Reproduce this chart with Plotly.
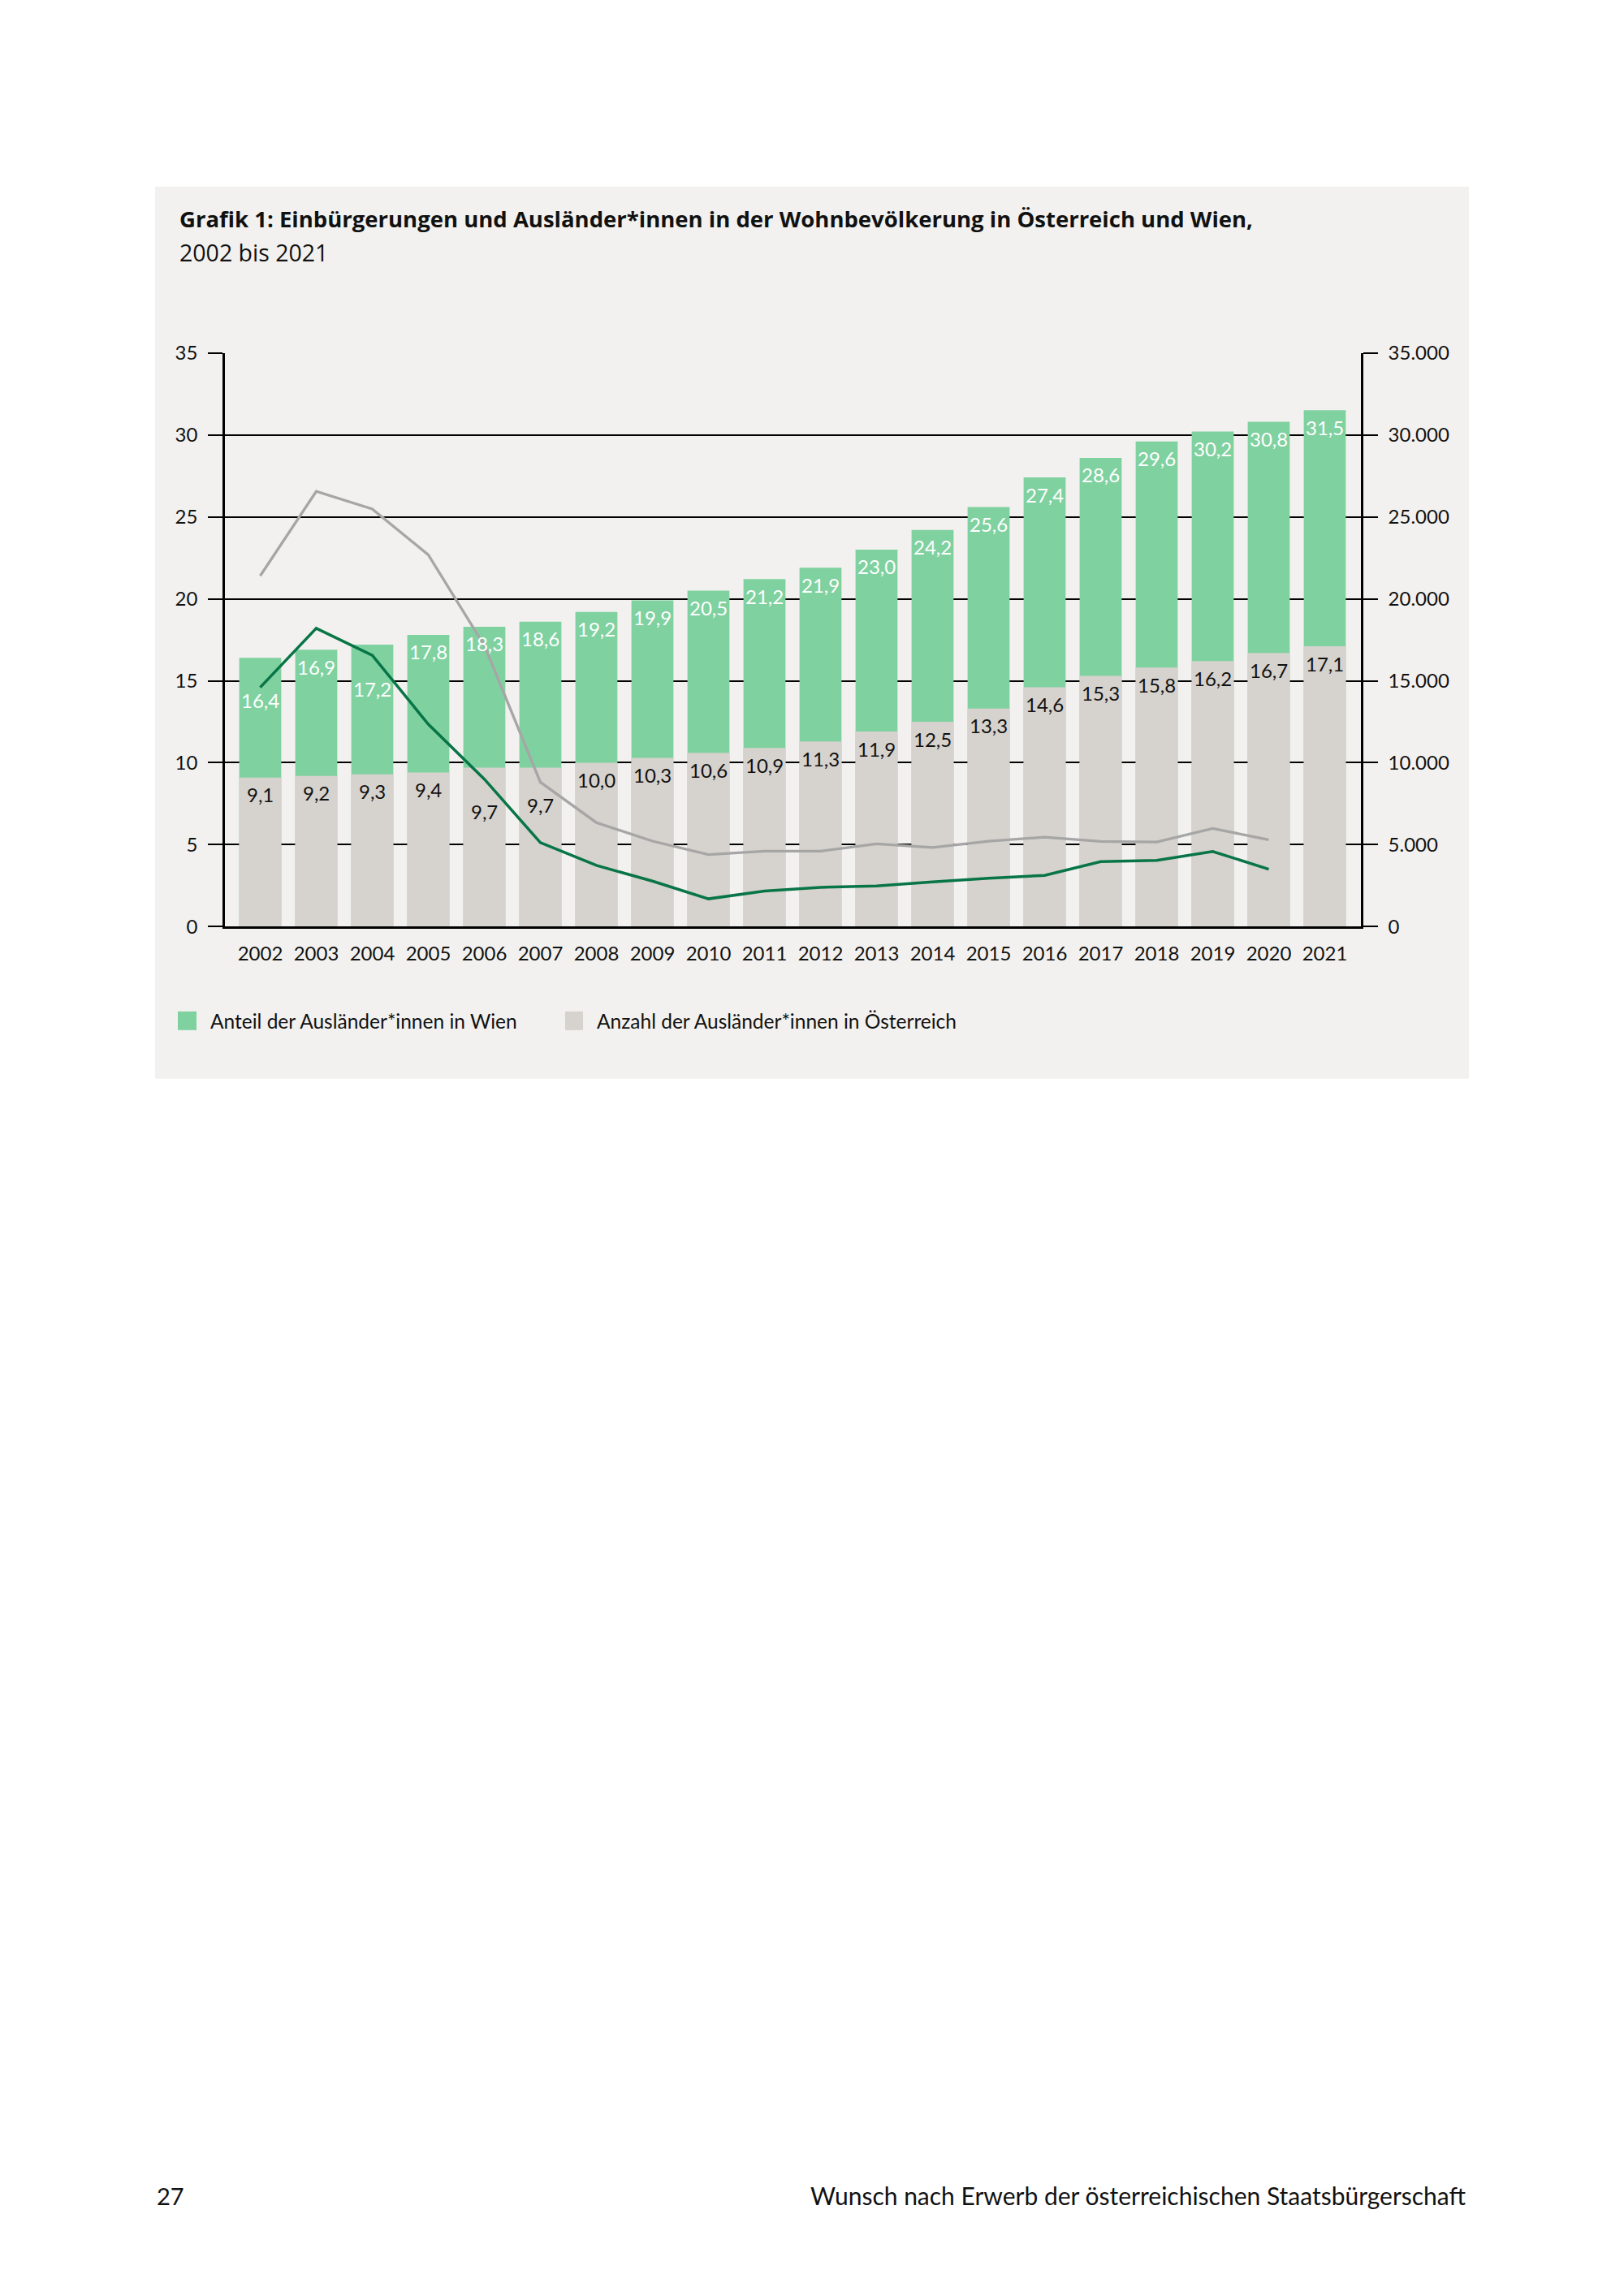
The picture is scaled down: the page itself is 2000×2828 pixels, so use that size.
import plotly.graph_objects as go

# Werte
jahre = ["2002", "2003", "2004", "2005", "2006", "2007", "2008", "2009", "2010", "2011",
         "2012", "2013", "2014", "2015", "2016", "2017", "2018", "2019", "2020", "2021"]

# Anteil der Ausländer*innen (%)
anteil_wien = [16.4, 16.9, 17.2, 17.8, 18.3, 18.6, 19.2, 19.9, 20.5, 21.2,
               21.9, 23.0, 24.2, 25.6, 27.4, 28.6, 29.6, 30.2, 30.8, 31.5]
anteil_oesterreich = [9.1, 9.2, 9.3, 9.4, 9.7, 9.7, 10.0, 10.3, 10.6, 10.9,
                      11.3, 11.9, 12.5, 13.3, 14.6, 15.3, 15.8, 16.2, 16.7, 17.1]

# Einbürgerungen (rechte Achse), 2021 fehlt
einb_wien = [14600, 18200, 16550, 12350, 9000, 5130, 3740, 2780, 1700, 2170,
             2400, 2480, 2730, 2960, 3130, 3970, 4040, 4590, 3510, None]
einb_rest = [21400, 26550, 25480, 22680, 17150, 8820, 6350, 5220, 4400, 4610,
             4610, 5050, 4830, 5220, 5460, 5200, 5170, 5990, 5300, None]

OFF = 8  # Seitenrand des Browsers (body margin)
W, H = 2000 - 2 * OFF, 2828 - 2 * OFF  # Seite passt genau ins Fenster
FONT = "Lato"
TFONT = "Open Sans"
GRUEN = "#80d1a0"
GRAU = "#d6d2cd"
TXT = "#111111"


def py(px):
    # Seitenpixel von oben -> paper-Koordinate (mit Korrektur aus dem Probelauf)
    px = (px - 15.0) / 0.9907
    return 1 - (px - OFF) / H


def px_x(px):
    return (px - OFF) / W


def fmt(v):
    return f"{v:.1f}".replace(".", ",")


fig = go.Figure()

fig.add_trace(go.Bar(x=jahre, y=anteil_wien, marker_color=GRUEN, marker_line_width=0,
                     name="Anteil der Ausländer*innen in Wien", hoverinfo="skip"))
fig.add_trace(go.Bar(x=jahre, y=anteil_oesterreich, marker_color=GRAU, marker_line_width=0,
                     name="Anzahl der Ausländer*innen in Österreich", hoverinfo="skip"))
fig.add_trace(go.Scatter(x=jahre, y=einb_rest, yaxis="y2", mode="lines",
                         line=dict(color="#a6a6a6", width=3.3), name="Einbürgerungen Österreich"))
fig.add_trace(go.Scatter(x=jahre, y=einb_wien, yaxis="y2", mode="lines",
                         line=dict(color="#087547", width=3.5), name="Einbürgerungen Wien"))

# Beschriftungen der Balken (einige im Original verschoben, um den Linien auszuweichen)
extra_gruen = {"2002": -31, "2004": -33}
extra_grau = {"2006": -33, "2007": -25}
annotations = []
for i, (j, v) in enumerate(zip(jahre, anteil_wien)):
    annotations.append(dict(x=i, y=v, xref="x", yref="y", text=fmt(v), showarrow=False,
                            yanchor="middle", yshift=-21 + extra_gruen.get(j, 0),
                            font=dict(family=FONT, size=24, color="white")))
for i, (j, v) in enumerate(zip(jahre, anteil_oesterreich)):
    annotations.append(dict(x=i, y=v, xref="x", yref="y", text=fmt(v), showarrow=False,
                            yanchor="middle", yshift=-21 + extra_grau.get(j, 0),
                            font=dict(family=FONT, size=24, color=TXT)))

# Titel
annotations.append(dict(x=px_x(219), y=py(269), xref="paper", yref="paper", xanchor="left",
                        yanchor="middle", showarrow=False,
                        text="<b>Grafik 1: Einbürgerungen und Ausländer*innen in der Wohnbevölkerung in Österreich und Wien,</b>",
                        font=dict(family=TFONT, size=27.5, color=TXT)))
annotations.append(dict(x=px_x(219), y=py(310), xref="paper", yref="paper", xanchor="left",
                        yanchor="middle", showarrow=False, text="2002 bis 2021",
                        font=dict(family=TFONT, size=28.5, color=TXT)))

# Hintergrundfläche und Legende (eigene Kästchen)
shapes = [
    dict(type="rect", xref="paper", yref="paper", x0=px_x(191), x1=px_x(1809),
         y0=py(229), y1=py(1329), fillcolor="#f2f1ef", line_width=0, layer="below"),
    dict(type="rect", xref="paper", yref="paper", x0=px_x(219), x1=px_x(242),
         y0=py(1246), y1=py(1269), fillcolor=GRUEN, line_width=0),
    dict(type="rect", xref="paper", yref="paper", x0=px_x(696), x1=px_x(718),
         y0=py(1246), y1=py(1269), fillcolor=GRAU, line_width=0),
]
annotations.append(dict(x=px_x(257), y=py(1258), xref="paper", yref="paper", xanchor="left",
                        yanchor="middle", showarrow=False, text="Anteil der Ausländer*innen in Wien",
                        font=dict(family=FONT, size=24.5, color=TXT)))
annotations.append(dict(x=px_x(733), y=py(1258), xref="paper", yref="paper", xanchor="left",
                        yanchor="middle", showarrow=False, text="Anzahl der Ausländer*innen in Österreich",
                        font=dict(family=FONT, size=24.5, color=TXT)))

# Fußzeile
annotations.append(dict(x=px_x(191), y=py(2706), xref="paper", yref="paper", xanchor="left",
                        yanchor="middle", showarrow=False, text="27",
                        font=dict(family=FONT, size=29, color=TXT)))
annotations.append(dict(x=px_x(1808), y=py(2706), xref="paper", yref="paper", xanchor="right",
                        yanchor="middle", showarrow=False,
                        text="Wunsch nach Erwerb der österreichischen Staatsbürgerschaft",
                        font=dict(family=FONT, size=30, color=TXT)))

fig.update_layout(
    width=W, height=H,
    margin=dict(l=0, r=0, t=0, b=0),
    paper_bgcolor="white",
    plot_bgcolor="rgba(0,0,0,0)",
    barmode="overlay",
    bargap=0.25,
    showlegend=False,
    separators=",.",
    font=dict(family=FONT, size=24, color=TXT),
    annotations=annotations,
    shapes=shapes,
    xaxis=dict(domain=[px_x(277), px_x(1676)], type="category", range=[-0.63, 19.645],
               showline=True, linecolor="black", linewidth=2.5, showgrid=False,
               ticks="outside", ticklen=10, tickcolor="rgba(0,0,0,0)",
               tickfont=dict(family=FONT, size=24, color=TXT)),
    yaxis=dict(domain=[py(1141.5), py(434)], range=[0, 35], dtick=5,
               showgrid=True, gridcolor="black", gridwidth=1.8, zeroline=False,
               showline=True, linecolor="black", linewidth=2.5,
               ticks="outside", ticklen=18, tickwidth=2, tickcolor="black",
               ticklabelstandoff=8,
               tickfont=dict(family=FONT, size=24, color=TXT)),
    yaxis2=dict(overlaying="y", side="right", range=[0, 35000], dtick=5000,
                tickformat=",d", showgrid=False, zeroline=False,
                showline=True, linecolor="black", linewidth=2.5,
                ticks="outside", ticklen=18, tickwidth=2, tickcolor="black",
                ticklabelstandoff=8,
                tickfont=dict(family=FONT, size=24, color=TXT)),
)

fig.write_html("out.html")
